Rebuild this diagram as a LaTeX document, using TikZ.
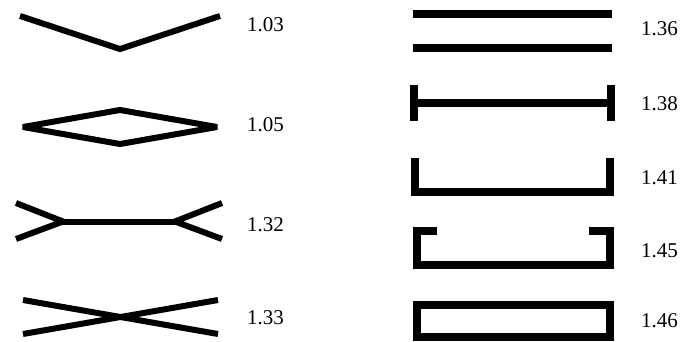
\documentclass[tikz,border=0pt]{standalone}
\usepackage{fontspec}
\setmainfont{Liberation Serif}
\begin{document}
\begin{tikzpicture}[x=1pt,y=-1pt,
  thin shape/.style={line width=6pt,line join=miter,line cap=butt},
  thick shape/.style={line width=8pt,line join=miter,line cap=butt},
  ratio/.style={anchor=west,inner sep=0pt,font=\fontsize{21}{21}\selectfont}]
\useasboundingbox (0,0) rectangle (699,341);

% left column
\draw[thin shape] (20,16) -- (120,49) -- (220,16);
\draw[thin shape,line join=bevel] (23,127) -- (120,110) -- (217,127) -- (120,144) -- cycle;
\draw[thin shape] (16,203) -- (63,221.5) -- (16,239);
\draw[thin shape] (63,221.5) -- (175,221.5);
\draw[thin shape] (222,203) -- (175,221.5) -- (222,239);
\draw[thin shape] (23,300) -- (218,334);
\draw[thin shape] (23,334) -- (218,300);

% right column
\draw[thick shape] (413,14) -- (612,14);
\draw[thick shape] (413,47.5) -- (612,47.5);
\draw[thick shape] (414,102.5) -- (610.5,102.5);
\draw[thick shape] (414,85) -- (414,121);
\draw[thick shape] (610.5,85) -- (610.5,121);
\draw[thick shape] (415,158) -- (415,192) -- (610,192) -- (610,158);
\draw[thick shape] (437,230.5) -- (416.5,230.5) -- (416.5,264.5) -- (609.5,264.5) -- (609.5,230.5) -- (589,230.5);
\draw[thick shape] (416.7,304.5) rectangle (610.3,336.5);

% ratios
\node[ratio] (r103) at (247,25) {1.03};
\node[ratio] (r105) at (247,125) {1.05};
\node[ratio] (r132) at (247,224.5) {1.32};
\node[ratio] (r133) at (247,317.5) {1.33};
\node[ratio] (r136) at (641,28.5) {1.36};
\node[ratio] (r138) at (641,103.5) {1.38};
\node[ratio] (r141) at (641,177.5) {1.41};
\node[ratio] (r145) at (641,250.5) {1.45};
\node[ratio] (r146) at (641,320.5) {1.46};
\end{tikzpicture}
\end{document}
